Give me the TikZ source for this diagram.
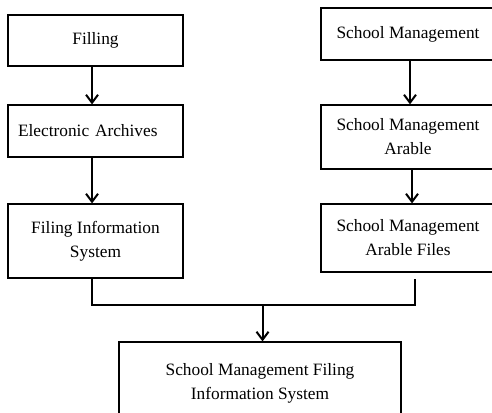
\documentclass[tikz,border=0pt]{standalone}
\usepackage{fontspec}
\setmainfont{Liberation Serif}
\usetikzlibrary{arrows.meta,calc,positioning}

\begin{document}
\begin{tikzpicture}[x=0.75pt, y=-0.75pt,
  box/.style={draw, line width=0.9pt, align=center, inner sep=2pt, font=\fontsize{13}{18}\selectfont},
  lbox/.style={box, minimum width=131.25pt},
  rbox/.style={box, minimum width=130.5pt},
  arr/.style={-{Straight Barb[length=6pt,width=9pt]}, line width=1.5pt},
  link/.style={line width=1.5pt}]
\useasboundingbox (0,0) rectangle (492,412);
\clip (0,0) rectangle (492,412);

% left column
\node[lbox, minimum height=38.25pt] (fil) at (95.5,40.5) {Filling};
\node[lbox, minimum height=39pt, align=left, text width=116.25pt, inner xsep=7.5pt] (ea) at (95.5,131) {Electronic Archives};
\node[lbox, minimum height=55.5pt] (fis) at (95.5,241) {Filing Information\\System};

% right column
\node[rbox, minimum height=39pt] (sm) at (408,34) {School Management};
\node[rbox, minimum height=48pt] (sma) at (408,137) {School Management\\Arable};
\node[rbox, minimum height=51pt] (smaf) at (408,238) {School Management\\Arable Files};

% result
\node[box, minimum width=211.5pt, minimum height=61.5pt] (smfis) at (260,383) {School Management Filing\\Information System};

\draw[arr] ([xshift=-2.6pt]fil.south) -- ([xshift=-2.6pt]ea.north);
\draw[arr] ([xshift=-2.6pt]ea.south) -- ([xshift=-2.6pt]fis.north);
\draw[arr] ([xshift=1.5pt]sm.south) -- ([xshift=1.5pt]sma.north);
\draw[arr] ([xshift=3pt]sma.south) -- ([xshift=3pt]smaf.north);

\coordinate (join) at ($(smfis.north)+(2.5,-36)$);
\draw[link] ([xshift=-2.6pt]fis.south) |- (join) -| ($(smaf.south)+(7,6)$);
\draw[arr] (join) -- (join |- smfis.north);
\end{tikzpicture}
\end{document}
